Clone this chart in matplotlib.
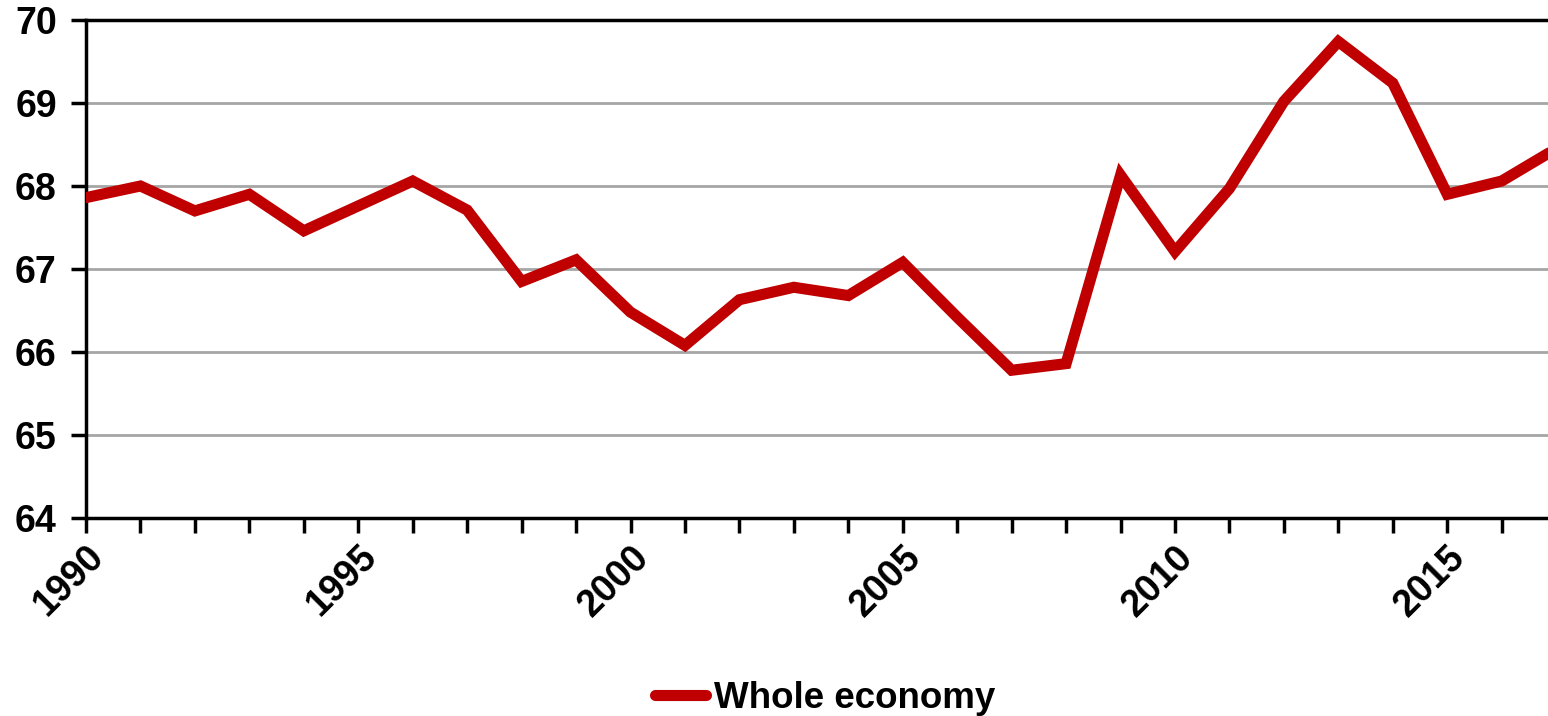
import matplotlib
matplotlib.use("Agg")
from matplotlib import pyplot as plt

years = list(range(1990, 2018))
whole_economy = [67.86, 68.00, 67.70, 67.90, 67.46, 67.76, 68.06, 67.71, 66.85, 67.11,
                 66.48, 66.08, 66.63, 66.78, 66.68, 67.08, 66.42, 65.78, 65.86, 68.13,
                 67.21, 67.97, 69.02, 69.74, 69.24, 67.90, 68.06, 68.45]
xtick_years = [1990, 1995, 2000, 2005, 2010, 2015]

plt.rcParams['font.family'] = ['Liberation Sans', 'DejaVu Sans']
plt.rcParams['font.weight'] = 'bold'

fig = plt.figure(figsize=(15.48, 7.16), dpi=100)
ax = fig.add_axes([86/1548, 1 - 518/716, 1 - 86/1548, (518 - 20)/716])

ax.plot(years, whole_economy, color='#C00000', linewidth=8,
        solid_joinstyle='miter', solid_capstyle='round',
        label='Whole economy', zorder=3)

ax.set_xlim(1990, 1990 + (1548 - 86) / 54.45)
ax.set_ylim(64, 70)
ax.set_yticks(range(64, 71))
ax.set_xticks(years[:27])
ax.set_xticklabels([str(y) if y in xtick_years else '' for y in years[:27]],
                   rotation=45, ha='right', va='top', rotation_mode='anchor')

ax.grid(axis='y', color='#A6A6A6', linewidth=2, zorder=1)
ax.axhline(70, color='black', linewidth=2.5, zorder=2, clip_on=False)
for s in ['right', 'top']:
    ax.spines[s].set_visible(False)
for s in ['left', 'bottom']:
    ax.spines[s].set_linewidth(2.5)
ax.tick_params(axis='both', direction='out', length=11, width=2.5, labelsize=27, pad=4)
ax.tick_params(axis='y', pad=10)

leg = fig.legend(loc='center', bbox_to_anchor=(0.533, 1 - 698/716), frameon=False,
                 fontsize=26.5, handlelength=1.4, handletextpad=0.2)
for t in leg.get_texts():
    t.set_fontweight('bold')

fig.savefig('out.png', dpi=100)
